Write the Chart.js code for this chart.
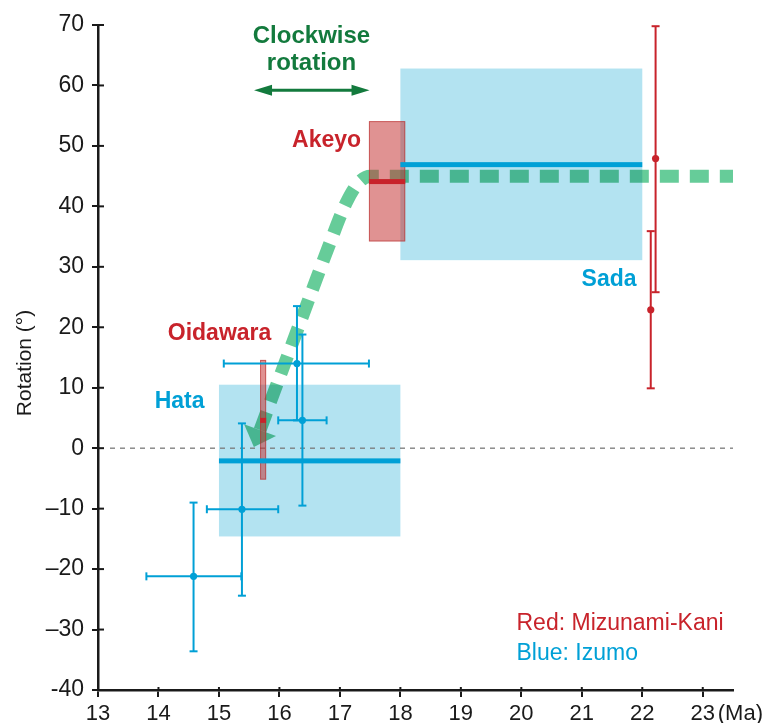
<!DOCTYPE html>
<html>
<head>
<meta charset="UTF-8">
<title>Rotation vs age</title>
<script src="https://cdn.jsdelivr.net/npm/chart.js"></script>
<style>
  html, body { margin: 0; padding: 0; background: #ffffff; }
  #wrap { width: 769px; height: 723px; position: relative; }
</style>
</head>
<body>
<div id="wrap"><canvas id="rotChart"></canvas></div>
<script>
// ---- data: age in Ma, rotation in degrees ----
const xTicks = [13, 14, 15, 16, 17, 18, 19, 20, 21, 22, 23];
const yTicks = [-40, -30, -20, -10, 0, 10, 20, 30, 40, 50, 60, 70];

// Izumo sites (blue) with error bars
const izumoAge   = [14.58, 15.38, 16.29, 16.38];
const izumoAgeLo = [13.8, 14.8, 15.08, 15.98];
const izumoAgeHi = [15.37, 15.98, 17.48, 16.78];
const izumoRot   = [-21.2, -10.1, 14.0, 4.6];
const izumoRotLo = [-33.6, -24.4, 4.6, -9.5];
const izumoRotHi = [-9.0, 4.1, 23.5, 18.8];

// Mizunami-Kani sites (red)
const mkAge   = [22.22, 22.14];
const mkRot   = [47.9, 22.9];
const mkRotLo = [25.8, 9.9];
const mkRotHi = [69.8, 35.9];

// Izumo formation envelopes
const izumoBoxName    = ['Hata', 'Sada'];
const izumoBoxAgeMin  = [15, 18];
const izumoBoxAgeMax  = [18, 22];
const izumoBoxRotMin  = [-14.6, 31.1];
const izumoBoxRotMax  = [10.5, 62.8];
const izumoBoxRotMean = [-2.1, 46.9];

// Mizunami-Kani formation envelopes
const mkBoxName    = ['Oidawara', 'Akeyo'];
const mkBoxAgeMin  = [15.68, 17.48];
const mkBoxAgeMax  = [15.78, 18.08];
const mkBoxRotMin  = [-5.2, 34.2];
const mkBoxRotMax  = [14.6, 54.1];
const mkBoxRotMean = [4.6, 44.1];

// interpreted rotation path (green)
const pathAge = [15.68, 15.9, 16.2, 16.5, 16.8, 17.1, 17.3, 17.5, 18.0, 23.5];
const pathRot = [3.0, 9.0, 17.0, 25.0, 33.0, 40.5, 43.8, 45.0, 45.0, 45.0];

// ---- styling ----
const FONT = '"Liberation Sans", Arial, Helvetica, sans-serif';
const INK = '#1a1a1a';
const BLUE = '#00a0d6';
const BLUE_BOX = '#b3e3f1';
const RED = '#c8232b';
const GREEN = '#66cc99';
const DARK_GREEN = '#137a3d';

function drawCap(ctx, x, y, half, vertical) {
  ctx.beginPath();
  if (vertical) { ctx.moveTo(x - half, y); ctx.lineTo(x + half, y); }
  else { ctx.moveTo(x, y - half); ctx.lineTo(x, y + half); }
  ctx.stroke();
}

function errorBarY(ctx, x, yLo, yHi) {
  ctx.beginPath(); ctx.moveTo(x, yLo); ctx.lineTo(x, yHi); ctx.stroke();
  drawCap(ctx, x, yLo, 4, true);
  drawCap(ctx, x, yHi, 4, true);
}

function errorBarX(ctx, y, xLo, xHi) {
  ctx.beginPath(); ctx.moveTo(xLo, y); ctx.lineTo(xHi, y); ctx.stroke();
  drawCap(ctx, xLo, y, 4, false);
  drawCap(ctx, xHi, y, 4, false);
}

const overlay = {
  id: 'overlay',
  beforeDatasetsDraw(chart) {
    const { ctx, chartArea: a } = chart;
    const sx = chart.scales.x, sy = chart.scales.y;
    ctx.save();
    ctx.fillStyle = BLUE_BOX;
    izumoBoxName.forEach((n, i) => {
      const l = sx.getPixelForValue(izumoBoxAgeMin[i]), r = sx.getPixelForValue(izumoBoxAgeMax[i]);
      const t = sy.getPixelForValue(izumoBoxRotMax[i]), b = sy.getPixelForValue(izumoBoxRotMin[i]);
      ctx.fillRect(l, t, r - l, b - t);
    });
    // zero line
    const y0 = sy.getPixelForValue(0);
    ctx.strokeStyle = '#7a7a7a';
    ctx.lineWidth = 1.3;
    ctx.setLineDash([5, 5]);
    ctx.beginPath(); ctx.moveTo(a.left + 12, y0); ctx.lineTo(a.right, y0); ctx.stroke();
    ctx.restore();
  },
  beforeDatasetDraw(chart, args) {
    if (args.index === 0) {
      chart.ctx.save();
      chart.ctx.globalCompositeOperation = 'multiply';
    }
  },
  afterDatasetDraw(chart, args) {
    if (args.index !== 0) return;
    const ctx = chart.ctx;
    const sx = chart.scales.x, sy = chart.scales.y;

    // arrowhead at the young end of the path
    const p0 = { x: sx.getPixelForValue(pathAge[0]), y: sy.getPixelForValue(pathRot[0]) };
    const p1 = { x: sx.getPixelForValue(pathAge[1]), y: sy.getPixelForValue(pathRot[1]) };
    let dx = p0.x - p1.x, dy = p0.y - p1.y;
    const len = Math.hypot(dx, dy); dx /= len; dy /= len;
    ctx.fillStyle = GREEN;
    ctx.beginPath();
    ctx.moveTo(p0.x + dx * 18, p0.y + dy * 18);
    ctx.lineTo(p0.x - dy * 17, p0.y + dx * 17);
    ctx.lineTo(p0.x + dy * 17, p0.y - dx * 17);
    ctx.closePath();
    ctx.fill();
    ctx.restore();

    ctx.save();
    // Mizunami-Kani boxes
    mkBoxName.forEach((n, i) => {
      const l = sx.getPixelForValue(mkBoxAgeMin[i]), r = sx.getPixelForValue(mkBoxAgeMax[i]);
      const t = sy.getPixelForValue(mkBoxRotMax[i]), b = sy.getPixelForValue(mkBoxRotMin[i]);
      ctx.fillStyle = 'rgba(196,46,46,0.52)';
      ctx.fillRect(l, t, r - l, b - t);
      ctx.strokeStyle = 'rgba(180,40,40,0.55)';
      ctx.lineWidth = 1;
      ctx.strokeRect(l + 0.5, t + 0.5, r - l - 1, b - t - 1);
      const m = sy.getPixelForValue(mkBoxRotMean[i]);
      ctx.fillStyle = RED;
      ctx.fillRect(l, m - 2.5, r - l, 5);
    });
    // Izumo mean lines
    ctx.fillStyle = BLUE;
    izumoBoxName.forEach((n, i) => {
      const l = sx.getPixelForValue(izumoBoxAgeMin[i]), r = sx.getPixelForValue(izumoBoxAgeMax[i]);
      const m = sy.getPixelForValue(izumoBoxRotMean[i]);
      ctx.fillRect(l, m - 2.5, r - l, 5);
    });
    // error bars
    ctx.lineWidth = 2;
    ctx.strokeStyle = BLUE;
    izumoAge.forEach((a, i) => {
      const x = sx.getPixelForValue(a), y = sy.getPixelForValue(izumoRot[i]);
      errorBarY(ctx, x, sy.getPixelForValue(izumoRotLo[i]), sy.getPixelForValue(izumoRotHi[i]));
      errorBarX(ctx, y, sx.getPixelForValue(izumoAgeLo[i]), sx.getPixelForValue(izumoAgeHi[i]));
    });
    ctx.strokeStyle = RED;
    mkAge.forEach((a, i) => {
      const x = sx.getPixelForValue(a);
      errorBarY(ctx, x, sy.getPixelForValue(mkRotLo[i]), sy.getPixelForValue(mkRotHi[i]));
    });
    ctx.restore();
  },
  afterDatasetsDraw(chart) {
    const { ctx, chartArea: a } = chart;
    const sx = chart.scales.x, sy = chart.scales.y;
    ctx.save();
    ctx.textBaseline = 'alphabetic';

    // region labels
    ctx.textAlign = 'center';
    ctx.font = 'bold 23px ' + FONT;
    ctx.fillStyle = RED;
    ctx.fillText('Akeyo', sx.getPixelForValue(16.78), sy.getPixelForValue(49.75));
    ctx.fillText('Oidawara', sx.getPixelForValue(15.01), sy.getPixelForValue(17.85));
    ctx.fillStyle = BLUE;
    ctx.fillText('Hata', sx.getPixelForValue(14.35), sy.getPixelForValue(6.66));
    ctx.fillText('Sada', sx.getPixelForValue(21.45), sy.getPixelForValue(26.8));

    // clockwise rotation note
    ctx.fillStyle = DARK_GREEN;
    ctx.font = 'bold 24px ' + FONT;
    ctx.fillText('Clockwise', sx.getPixelForValue(16.53), sy.getPixelForValue(67.0));
    ctx.fillText('rotation', sx.getPixelForValue(16.53), sy.getPixelForValue(62.5));
    const ay = sy.getPixelForValue(59.2);
    const al = sx.getPixelForValue(15.58), ar = sx.getPixelForValue(17.49);
    ctx.strokeStyle = DARK_GREEN;
    ctx.lineWidth = 3;
    ctx.beginPath(); ctx.moveTo(al + 12, ay); ctx.lineTo(ar - 12, ay); ctx.stroke();
    ctx.beginPath();
    ctx.moveTo(al, ay); ctx.lineTo(al + 18, ay - 5.5); ctx.lineTo(al + 18, ay + 5.5); ctx.closePath();
    ctx.moveTo(ar, ay); ctx.lineTo(ar - 18, ay - 5.5); ctx.lineTo(ar - 18, ay + 5.5); ctx.closePath();
    ctx.fill();

    // key
    ctx.textAlign = 'left';
    ctx.font = '23px ' + FONT;
    ctx.fillStyle = RED;
    ctx.fillText('Red: Mizunami-Kani', sx.getPixelForValue(19.92), sy.getPixelForValue(-30.1));
    ctx.fillStyle = BLUE;
    ctx.fillText('Blue: Izumo', sx.getPixelForValue(19.92), sy.getPixelForValue(-35.0));

    // inner parts of the tick marks
    ctx.strokeStyle = INK;
    ctx.lineWidth = 2;
    yTicks.forEach(v => {
      const y = sy.getPixelForValue(v);
      ctx.beginPath(); ctx.moveTo(a.left, y); ctx.lineTo(a.left + 6, y); ctx.stroke();
    });
    xTicks.forEach(v => {
      const x = sx.getPixelForValue(v);
      ctx.beginPath(); ctx.moveTo(x, a.bottom); ctx.lineTo(x, a.bottom - 3); ctx.stroke();
    });

    // unit after the last x tick
    ctx.fillStyle = INK;
    ctx.font = '22px ' + FONT;
    ctx.fillText('(Ma)', sx.getPixelForValue(23) + 15, 720);

    // y axis title
    ctx.translate(31, 363);
    ctx.rotate(-Math.PI / 2);
    ctx.textAlign = 'center';
    ctx.font = '21px ' + FONT;
    ctx.fillText('Rotation (°)', 0, 0);
    ctx.restore();
  }
};

new Chart(document.getElementById('rotChart'), {
  type: 'scatter',
  data: {
    datasets: [
      {
        label: 'Rotation path',
        data: pathAge.map((x, i) => ({ x, y: pathRot[i] })),
        showLine: true,
        borderColor: GREEN,
        borderWidth: 13,
        borderDash: [19, 11],
        borderCapStyle: 'butt',
        cubicInterpolationMode: 'monotone',
        pointRadius: 0,
        order: 3
      },
      {
        label: 'Izumo',
        data: izumoAge.map((x, i) => ({ x, y: izumoRot[i] })),
        backgroundColor: BLUE,
        borderWidth: 0,
        pointRadius: 3.6,
        order: 1
      },
      {
        label: 'Mizunami-Kani',
        data: mkAge.map((x, i) => ({ x, y: mkRot[i] })),
        backgroundColor: RED,
        borderWidth: 0,
        pointRadius: 3.6,
        order: 0
      }
    ]
  },
  options: {
    responsive: true,
    maintainAspectRatio: false,
    animation: false,
    layout: { padding: { top: 25, right: 36, bottom: 0, left: 0 } },
    plugins: { legend: { display: false }, tooltip: { enabled: false } },
    scales: {
      x: {
        type: 'linear',
        min: 13,
        max: 23.5,
        afterBuildTicks: s => { s.ticks = xTicks.map(v => ({ value: v })); },
        afterFit: s => { s.height = 33; },
        grid: { drawOnChartArea: false, drawTicks: true, tickLength: 7, color: INK, lineWidth: 2 },
        border: { display: true, color: INK, width: 2.5 },
        ticks: { color: INK, font: { family: FONT, size: 22 }, padding: 4, maxRotation: 0, autoSkip: false }
      },
      y: {
        type: 'linear',
        min: -40,
        max: 70,
        afterBuildTicks: s => { s.ticks = yTicks.map(v => ({ value: v })); },
        afterFit: s => { s.width = 98; },
        grid: { drawOnChartArea: false, drawTicks: true, tickLength: 6, color: INK, lineWidth: 2 },
        border: { display: true, color: INK, width: 2.5 },
        ticks: {
          color: INK,
          font: { family: FONT, size: 23 },
          padding: 8,
          callback: v => (v < 0 && v > -40) ? '\u2013' + (-v) : String(v)
        }
      }
    }
  },
  plugins: [overlay]
});
</script>
</body>
</html>
